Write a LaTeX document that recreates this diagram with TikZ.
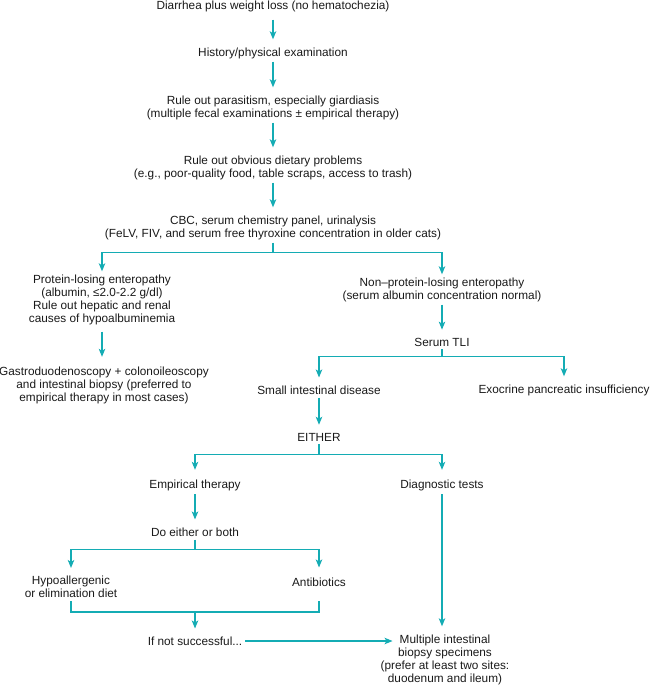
\documentclass[tikz,border=0pt]{standalone}
\usepackage{fontspec}
\setmainfont{Liberation Sans}
\usepackage{tikz}
\usetikzlibrary{positioning,calc,arrows.meta}
\definecolor{flowteal}{RGB}{20,172,180}

\begin{document}
\begin{tikzpicture}[
  x=1pt, y=-1pt,
  font=\fontsize{11.8}{13}\selectfont,
  >={Stealth[length=8pt,width=6.5pt,inset=2pt]},
  txt/.style={align=center, inner sep=3pt, text=black!90},
  ln/.style={line width=1.1pt, draw=flowteal},
  ar/.style={->, line width=1.1pt, draw=flowteal},
  arS/.style={ar, shorten >=5pt}
]
\useasboundingbox (0,0) rectangle (650,685);
% Work-up column
\node[txt] (diarr) at (273,6) {Diarrhea plus weight loss (no hematochezia)};
\node[txt] (hist)  at (273,53) {History/physical examination};
\node[txt] (paras) at (273,107.5)
  {Rule out parasitism, especially giardiasis\\(multiple fecal examinations ± empirical therapy)};
\node[txt] (diet)  at (273,167.5)
  {Rule out obvious dietary problems\\(e.g., poor-quality food, table scraps, access to trash)};
\node[txt] (cbc)   at (273,227.5)
  {CBC, serum chemistry panel, urinalysis\\(FeLV, FIV, and serum free thyroxine concentration in older cats)};
\draw[arS, shorten <=5pt] (diarr) -- (hist);
\draw[arS] (hist) -- (paras);
\draw[arS] (paras) -- (diet);
\draw[arS] (diet) -- (cbc);
% Albumin split
\node[txt] (ple) at (102,299.5)
  {Protein-losing enteropathy\\(albumin, ≤2.0-2.2 g/dl)\\Rule out hepatic and renal\\causes of hypoalbuminemia};
\node[txt] (nonple) at (442,289.5)
  {Non--protein-losing enteropathy\\(serum albumin concentration normal)};
\coordinate (s1) at ([yshift=-10pt]cbc.south);
\draw[ln] (cbc.south) -- (s1);
\draw[ar] (s1) -| (ple.north);
\draw[ar] (s1) -| (nonple.north);
% Protein-losing branch
\node[txt] (gastro) at (104,385.5)
  {Gastroduodenoscopy + colonoileoscopy\\and intestinal biopsy (preferred to\\empirical therapy in most cases)};
\draw[arS, shorten <=4pt, shorten >=7pt] (ple.south) -- (ple.south |- gastro.north);
% Non-protein-losing branch
\node[txt] (tli) at (442,342) {Serum TLI};
\draw[arS] (nonple) -- (tli);
\node[txt] (small) at (319,390) {Small intestinal disease};
\node[txt] (exo)   at (564,390) {Exocrine pancreatic insufficiency};
\coordinate (s2) at ([yshift=-7pt]tli.south);
\draw[ln] (tli.south) -- (s2);
\draw[arS] (s2) -| (small.north);
\draw[arS] (s2) -| (exo.north);
\node[txt] (either) at (319,437) {EITHER};
\draw[arS] (small) -- (either);
% Empirical therapy or diagnostic tests
\node[txt] (emp)  at (195,485.5) {Empirical therapy};
\node[txt] (diag) at (442,485.5) {Diagnostic tests};
\coordinate (s3) at ([yshift=-10pt]either.south);
\draw[ln] (either.south) -- (s3);
\draw[arS, shorten >=7pt] (s3) -| (emp.north);
\draw[arS, shorten >=7pt] (s3) -| (diag.north);
\node[txt] (doeither) at (195,532) {Do either or both};
\draw[arS] (emp) -- (doeither);
\node[txt] (hypo)  at (71,587) {Hypoallergenic\\or elimination diet};
\node[txt] (antib) at (319,582) {Antibiotics};
\coordinate (s4) at ([yshift=-10pt]doeither.south);
\draw[ln] (doeither.south) -- (s4);
\draw[arS] (s4) -| (hypo.north);
\draw[arS, shorten >=7pt] (s4) -| (antib.north);
% Rejoin
\coordinate (join) at (195,612);
\draw[ln] (hypo.south) |- (join);
\draw[ln] (antib.south |- hypo.south) |- (join);
\node[txt] (notsucc) at (195,641) {If not successful...};
\draw[arS] (join) -- (notsucc.north);
\node[txt] (multi) at (445,659.5)
  {Multiple intestinal\\biopsy specimens\\(prefer at least two sites:\\duodenum and ileum)};
\draw[arS] (diag) -- (diag.south |- multi.north);
\draw[ar] (notsucc.east) -- ($(notsucc.east -| multi.west)+(15,0)$);
\end{tikzpicture}
\end{document}
